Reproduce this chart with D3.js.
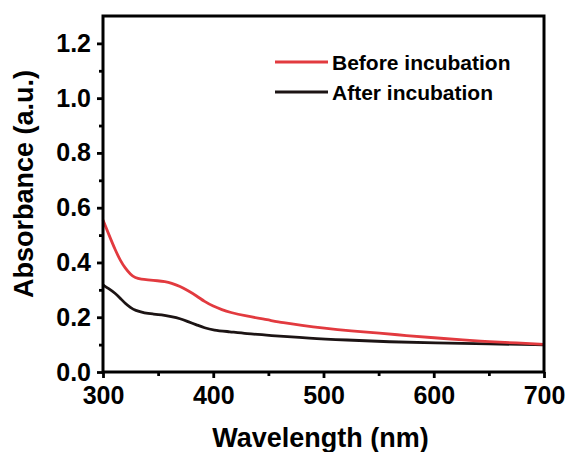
<!DOCTYPE html>
<html><head><meta charset="utf-8">
<script src="https://cdn.jsdelivr.net/npm/d3@7/dist/d3.min.js"></script>
<style>body{margin:0;background:#fff}text{font-family:"Liberation Sans",Arial,sans-serif;font-weight:bold}</style>
</head><body><svg id="c" width="568" height="452"></svg>
<script>
const seriesNames = ["Before incubation", "After incubation"];
const seriesColors = ["#e23a3f", "#1c1414"];
const beforeWl = [300,305,311,316,320,325,329,335,340,350,356,362,370,377,385,392,400,408,415,429,450,463,480,500,525,551,575,600,627,650,675,700];
const beforeAbs = [0.555,0.505,0.446,0.405,0.38,0.356,0.344,0.339,0.337,0.333,0.33,0.325,0.313,0.297,0.278,0.257,0.24,0.227,0.218,0.205,0.19,0.18,0.17,0.16,0.15,0.142,0.133,0.125,0.117,0.111,0.106,0.101];
const afterWl = [300,305,311,316,320,325,329,338,345,353,362,370,377,385,392,400,415,430,450,488,520,560,600,650,700];
const afterAbs = [0.318,0.305,0.288,0.268,0.251,0.235,0.225,0.215,0.212,0.209,0.202,0.195,0.184,0.172,0.161,0.153,0.147,0.14,0.134,0.123,0.117,0.11,0.106,0.103,0.099];
const xTicks = [300,400,500,600,700];
const xMinor = [350,450,550,650];
const yTicks = [0.0,0.2,0.4,0.6,0.8,1.0,1.2];
const yMinor = [0.1,0.3,0.5,0.7,0.9,1.1];
const xTitle = "Wavelength (nm)";
const yTitle = "Absorbance (a.u.)";

const m = {l:103, t:16, r:24, b:80};
const W = 568, H = 452;
const svg = d3.select("#c");
const x = d3.scaleLinear().domain([300,700]).range([m.l, W-m.r]);
const y = d3.scaleLinear().domain([0,1.3]).range([H-m.b, m.t]);

const line = d3.line().x(d=>x(d[0])).y(d=>y(d[1])).curve(d3.curveBasis);
const data = [d3.zip(beforeWl, beforeAbs), d3.zip(afterWl, afterAbs)];
[1,0].forEach(i=>{
  svg.append("path").attr("d", line(data[i])).attr("fill","none")
    .attr("stroke", seriesColors[i]).attr("stroke-width",2.8).attr("stroke-linejoin","round");
});

svg.append("rect").attr("x",m.l).attr("y",m.t).attr("width",W-m.l-m.r).attr("height",H-m.t-m.b)
  .attr("fill","none").attr("stroke","#000").attr("stroke-width",3);

const xa = svg.append("g").attr("transform",`translate(0,${H-m.b})`)
  .call(d3.axisBottom(x).tickValues(xTicks).tickSize(6).tickPadding(8).tickFormat(d3.format("d")));
const xm = svg.append("g").attr("transform",`translate(0,${H-m.b})`)
  .call(d3.axisBottom(x).tickValues(xMinor).tickSize(4).tickFormat(""));
const ya = svg.append("g").attr("transform",`translate(${m.l},0)`)
  .call(d3.axisLeft(y).tickValues(yTicks).tickSize(6).tickPadding(6).tickFormat(d3.format(".1f")));
const ym = svg.append("g").attr("transform",`translate(${m.l},0)`)
  .call(d3.axisLeft(y).tickValues(yMinor).tickSize(4).tickFormat(""));
[xa,xm,ya,ym].forEach(g=>{
  g.select(".domain").remove();
  g.selectAll("line").attr("stroke","#000").attr("stroke-width",2.8);
  g.selectAll("text").attr("fill","#000").style("font-size","25px")
    .style("font-family","'Liberation Sans',Arial,sans-serif").style("font-weight","bold");
});

svg.append("text").attr("x",(m.l+W-m.r)/2-3).attr("y",447).attr("text-anchor","middle")
  .style("font-size","27px").text(xTitle);
svg.append("text").attr("transform","translate(33,184) rotate(-90)").attr("text-anchor","middle")
  .style("font-size","27px").text(yTitle);

const lg = svg.append("g");
[0,1].forEach(i=>{
  const yy = 62 + i*30;
  lg.append("line").attr("x1",275).attr("x2",328).attr("y1",yy).attr("y2",yy)
    .attr("stroke",seriesColors[i]).attr("stroke-width",3);
  lg.append("text").attr("x",332).attr("y",yy+7.5).style("font-size","21px").text(seriesNames[i]);
});
</script></body></html>
